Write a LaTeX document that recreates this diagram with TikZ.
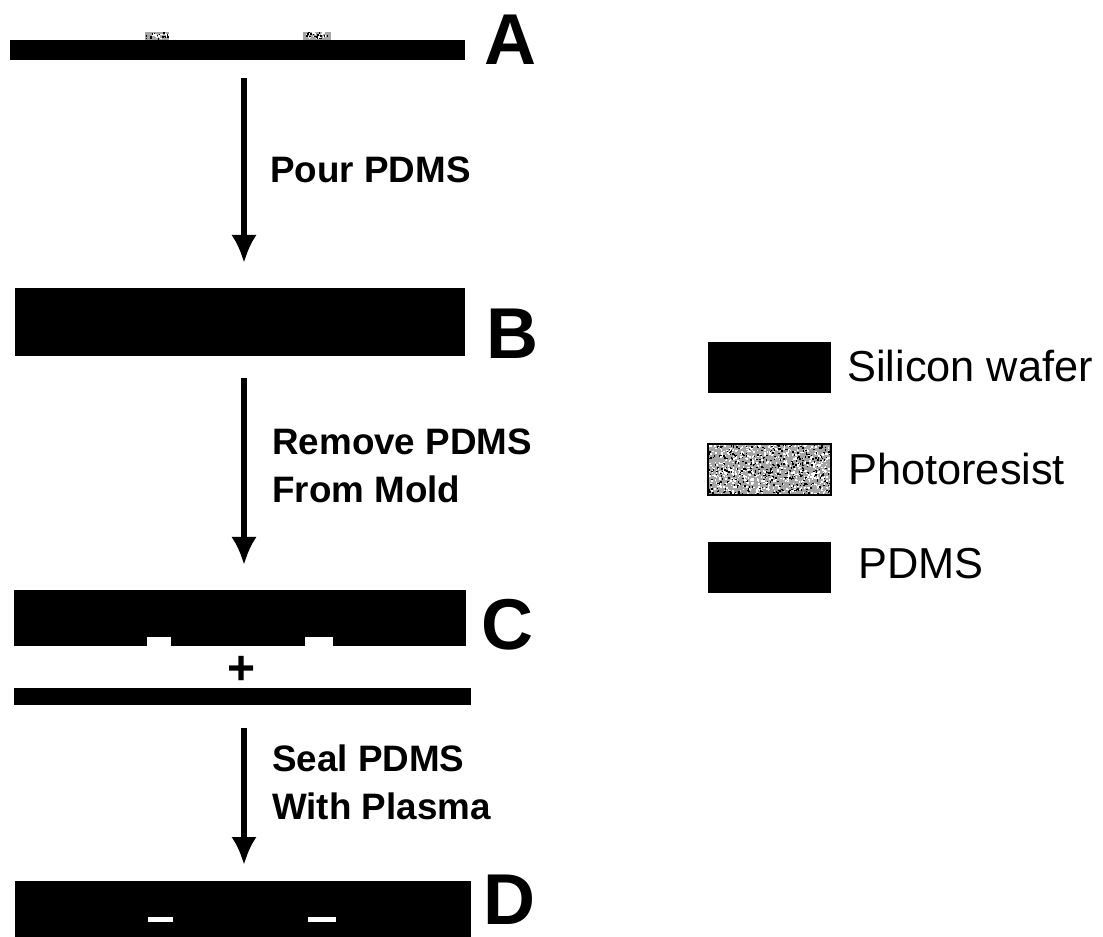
\documentclass[tikz,border=0pt]{standalone}
\usepackage{fontspec}
\setmainfont{Liberation Sans}
\usepackage{xcolor}
\usetikzlibrary{arrows.meta,positioning}
\definecolor{fabink}{RGB}{0,0,0}
\definecolor{fabres}{RGB}{165,165,165}
\tikzset{
  layer/.style 2 args={
    fill=fabink, draw=none, inner sep=0pt, outer sep=0pt,
    minimum width=#1*0.75pt, minimum height=#2*0.75pt
  },
  resist/.style 2 args={layer={#1}{#2}, fill=fabres},
  notch/.style 2 args={layer={#1}{#2}, fill=white},
  tag/.style={font=\fontsize{54}{54}\selectfont\bfseries, inner sep=0pt},
  stepnote/.style={
    font=\fontsize{27.6}{36}\selectfont\bfseries, align=left, inner sep=0pt, anchor=west
  },
  keynote/.style={font=\fontsize{32.5}{36}\selectfont, inner sep=0pt, anchor=west},
  arr/.style={-{Latex[length=21pt,width=19pt]}, draw=fabink, line width=3.8pt}
}
% speckle over a photoresist patch: x, y, w, h, count
\newcommand{\speckle}[5]{
  \foreach \i in {1,...,#5}{
    \pgfmathsetmacro{\sx}{#1+rnd*(#3-1.5)}
    \pgfmathsetmacro{\sy}{#2+rnd*(#4-1.5)}
    \pgfmathsetmacro{\st}{rnd<0.62 ? 0 : 100}
    \fill[black!\st!white] (\sx,\sy) rectangle ++(1.5,1.5);
  }
}
\begin{document}
\begin{tikzpicture}[x=0.75pt,y=-0.75pt]
  \useasboundingbox (0,0) rectangle (1103,937);
  \pgfmathsetseed{4217}
  % step A
  \node[layer={455}{20}] (waferA) at (237.5,50) {};
  \node[resist={24}{8}] (resA) at (157,36) {};
  \node[resist={28}{8}] (resB) at (317,36) {};
  \speckle{145}{32}{24}{8}{40}
  \speckle{303}{32}{28}{8}{46}
  \node[tag] (tagA) at (510,40) {A};
  % step B
  \node[layer={450}{68}] (pdmsB) at (240,322) {};
  \node[tag] (tagB) at (512,333.5) {B};
  % step C
  \node[layer={452}{56}] (pdmsC) at (240,618) {};
  \node[notch={24}{9}] (gapA) at (159,641.5) {};
  \node[notch={28}{9}] (gapB) at (319,641.5) {};
  \node[tag] (tagC) at (507.5,624.5) {C};
  \node[font=\fontsize{36}{36}\selectfont\bfseries, inner sep=0pt] (plus) at (242,670) {+};
  \node[layer={457}{17}] (waferC) at (242.5,696.5) {};
  % step D
  \node[layer={456}{56}] (pdmsD) at (243,909) {};
  \node[notch={25}{5}] (dashA) at (160.5,919) {};
  \node[notch={28}{5}] (dashB) at (322,919) {};
  \node[tag] (tagD) at (509,900) {D};
  % arrows between steps
  \draw[arr, shorten <=13.5pt, shorten >=18.75pt] (waferA.south -| 244,0) -- (pdmsB.north -| 244,0);
  \draw[arr, shorten <=16.5pt, shorten >=18.75pt] (pdmsB.south -| 244,0) -- (pdmsC.north -| 244,0);
  \draw[arr, shorten <=17pt, shorten >=12pt] (waferC.south -| 244,0) -- (pdmsD.north -| 244,0);
  \node[stepnote] (pour) at (270,170) {Pour PDMS};
  \node[stepnote] (remove) at (272,466) {Remove PDMS\\From Mold};
  \node[stepnote] (seal) at (272,782) {Seal PDMS\\With Plasma};
  % key
  \node[layer={123}{51}] (keySi) at (769.5,367.5) {};
  \node[resist={123}{51}] (keyRes) at (769.5,469.5) {};
  \speckle{708}{444}{123}{51}{1100}
  \draw[black, line width=1pt] (keyRes.south west) rectangle (keyRes.north east);
  \node[layer={123}{51}] (keyPdms) at (769.5,567.5) {};
  \node[keynote] (textSi) at (847,366) {Silicon wafer};
  \node[keynote] (textRes) at (848,469) {Photoresist};
  \node[keynote] (textPdms) at (858,564) {PDMS};
\end{tikzpicture}
\end{document}
